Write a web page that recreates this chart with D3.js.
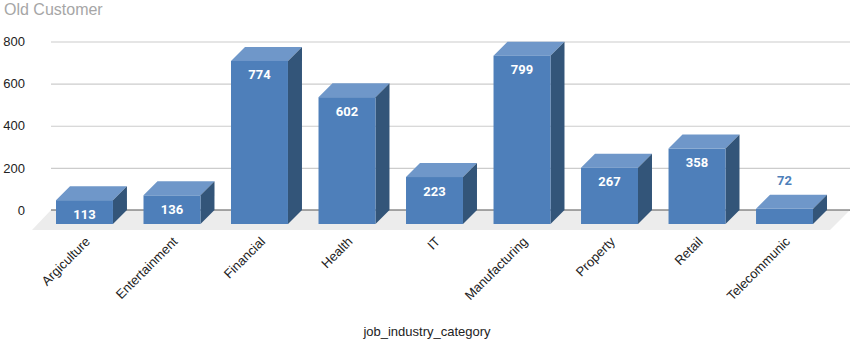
<html>
<head>
<script src="https://d3js.org/d3.v7.min.js"></script>
<style type="text/css">
    body { margin: 0; background: #fff; }
    svg { display: block; }
    text { font-family: "Liberation Sans", Arial, sans-serif; }
    .grid .domain { display: none; }
    .grid line { stroke: #ccc; stroke-width: 1.2; }
    .grid text { font-size: 13px; fill: #222; }
    .xaxis .domain, .xaxis line { display: none; }
    .xaxis text { font-size: 13px; fill: #222; }
    .val { font-family: Roboto, sans-serif; font-weight: 700; font-size: 13px; text-anchor: middle; }
</style>
</head>
<body>
<svg id="chart" width="862" height="347" xmlns="http://www.w3.org/2000/svg"></svg>
<script type="text/javascript">
const categories = ["Argiculture", "Entertainment", "Financial", "Health", "IT", "Manufacturing", "Property", "Retail", "Telecommunic"];
const customers = [113, 136, 774, 602, 223, 799, 267, 358, 72];
const yTicks = [0, 200, 400, 600, 800];

// the fake 3d offset, front faces sit this far down and left of the plane
const DEPTH = 14;
const rows = categories.map((c, i) => ({ cat: c, val: customers[i] }));

const svg = d3.select("#chart");

const x = d3.scaleBand().domain(categories).range([56, 813]).paddingInner(0.349).paddingOuter(0);
const y = d3.scaleLinear().domain([0, 800]).range([210, 41.5]);

const left = 51, right = 850;

svg.append("text")
    .attr("x", 4).attr("y", 15)
    .style("font-size", "16px").style("fill", "#a6a6a6")
    .text("Old Customer");

svg.append("g")
    .attr("class", "grid")
    .attr("transform", `translate(${left},0)`)
    .call(d3.axisLeft(y).tickValues(yTicks).tickSize(-(right - left)).tickPadding(26));

// floor
svg.append("polygon")
    .attr("points", [[left, y(0)], [right, y(0)], [right - DEPTH - 6, y(0) + 20], [left - 19, y(0) + 20]].join(" "))
    .attr("fill", "#ececec");

svg.append("line")
    .attr("x1", left).attr("x2", right)
    .attr("y1", y(0)).attr("y2", y(0))
    .attr("stroke", "#555").attr("stroke-width", 1.2);

const bars = svg.selectAll(".bar").data(rows).join("g").attr("class", "bar");

// top
bars.append("polygon")
    .attr("fill", "#6f97c9")
    .attr("points", d => {
        const x0 = x(d.cat), x1 = x0 + x.bandwidth(), t = y(d.val) + DEPTH;
        return [[x0, t], [x1, t], [x1 + DEPTH, t - DEPTH], [x0 + DEPTH, t - DEPTH]].join(" ");
    });

// side
bars.append("polygon")
    .attr("fill", "#335579")
    .attr("points", d => {
        const x1 = x(d.cat) + x.bandwidth(), t = y(d.val) + DEPTH, b = y(0) + DEPTH;
        return [[x1, t], [x1 + DEPTH, t - DEPTH], [x1 + DEPTH, b - DEPTH], [x1, b]].join(" ");
    });

// front
bars.append("rect")
    .attr("fill", "#4e7fba")
    .attr("x", d => x(d.cat))
    .attr("y", d => y(d.val) + DEPTH)
    .attr("width", x.bandwidth())
    .attr("height", d => y(0) - y(d.val));

// small bars get the label above, in the bar colour
bars.append("text")
    .attr("class", "val")
    .attr("x", d => x(d.cat) + x.bandwidth() / 2)
    .attr("y", d => d.val < 100 ? y(d.val) - 10 : y(d.val) + DEPTH + 18.5)
    .attr("fill", d => d.val < 100 ? "#4e7fba" : "#fff")
    .text(d => d.val);

const xaxis = svg.append("g")
    .attr("class", "xaxis")
    .attr("transform", "translate(0,236)")
    .call(d3.axisBottom(x).tickSize(0).tickPadding(0));

xaxis.selectAll("text")
    .attr("text-anchor", "end")
    .attr("dy", "0.7em")
    .attr("y", 0)
    .attr("transform", "rotate(-45) translate(0,0)");

svg.append("text")
    .attr("x", 427).attr("y", 336)
    .attr("text-anchor", "middle")
    .style("font-size", "13px").style("fill", "#222")
    .text("job_industry_category");
</script>
</body>
</html>
